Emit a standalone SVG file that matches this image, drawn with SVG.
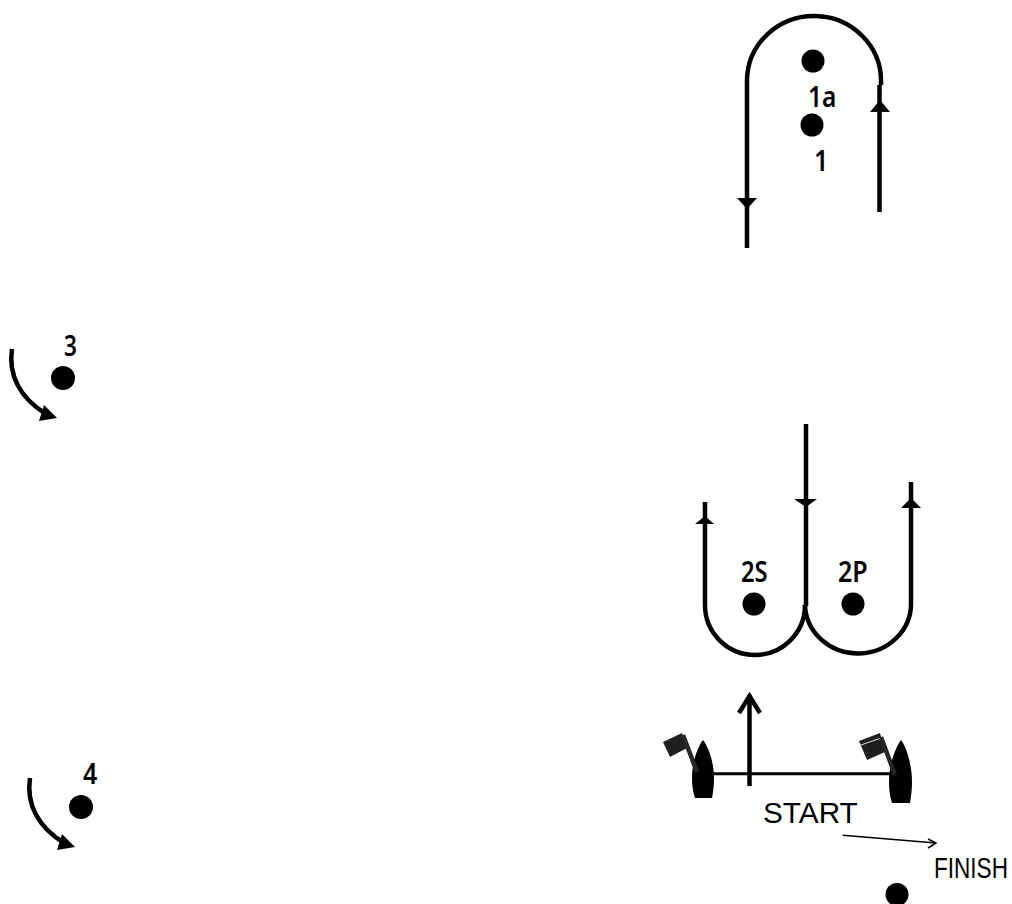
<svg xmlns="http://www.w3.org/2000/svg" width="1012" height="904" viewBox="0 0 1012 904">
<style>
.c{fill:none;stroke:#000;stroke-width:4.500}
.h{fill:#000;stroke:none}
.m{fill:#000}
.l{font-family:"Noto Sans","Open Sans",sans-serif;font-weight:600;font-size:25px;fill:#000}
.t{font-family:"Liberation Sans",Arial,sans-serif;font-size:24px;fill:#000}
</style>
<rect width="1012" height="904" fill="#fff"/>
<g id="connectors">
<path class="c" d="M747 248V80A67 65 0 0 1 881 82V85"/>
<path class="c" d="M879.500 212V85"/>
<path class="h" d="M737 198H757L747 209Z"/>
<path class="h" d="M870 112H890L880 100Z"/>
<path class="c" d="M705 502V605A50 50 0 0 0 805 605"/>
<path class="c" d="M806 424V606"/>
<path class="c" d="M805 605A53 50 0 0 0 911 602V482"/>
<path class="h" d="M695 524H714L705 516Z"/>
<path class="h" d="M794 499H817L806 507Z"/>
<path class="h" d="M901 508H921L911 498Z"/>
<path class="c" d="M12 349C8 375 20 398 46 414"/>
<path class="h" d="M44 405L57 418L39 421Z"/>
<path class="c" d="M30 778C26 804 38 827 64 843"/>
<path class="h" d="M62 834L75 847L57 850Z"/>
<path class="c" d="M749.500 786V695"/>
<path class="c" d="M739 713L749.500 696L760 713"/>
<path d="M713 773.700H890" fill="none" stroke="#000" stroke-width="3"/>
<path fill="none" stroke="#000" stroke-width="1.500" d="M842.700 835.300L936 843M928 839L936 843L928 848"/>
</g>
<g id="node-1a"><circle class="m" cx="813" cy="61" r="11.500"/><text class="l" transform="translate(808 107) scale(.98 1.150)">1a</text></g>
<g id="node-1"><circle class="m" cx="812" cy="125" r="11.500"/><text class="l" transform="translate(814 171) scale(1 1.150)">1</text></g>
<g id="node-2S"><circle class="m" cx="754" cy="604" r="11.500"/><text class="l" transform="translate(741 582) scale(.95 1.150)">2S</text></g>
<g id="node-2P"><circle class="m" cx="853" cy="604" r="11.500"/><text class="l" transform="translate(838 582) scale(1 1.150)">2P</text></g>
<g id="node-3"><circle class="m" cx="63" cy="378" r="12"/><text class="l" transform="translate(64 356) scale(.9 1.150)">3</text></g>
<g id="node-4"><circle class="m" cx="81" cy="807" r="12"/><text class="l" transform="translate(83 784) scale(1 1.150)">4</text></g>
<g id="node-finish-mark"><circle class="m" cx="897" cy="894.500" r="11.500"/></g>
<g id="boat-left">
<path class="m" d="M703 740C708 746 714 762 714 778C714 786 713 793 712 798H695C693 792 692 786 692 778C692 762 698 746 703 740Z"/>
<path d="M663 742L682 733L687 748L670 757Z" fill="#1f1f1f"/>
<path d="M683 735L697 772" fill="none" stroke="#262626" stroke-width="4.500"/>
</g>
<g id="boat-right">
<path class="m" d="M901 740C906 746 912 764 912 782C912 790 911 797 910 803H892C890 797 889 790 889 782C889 764 896 746 901 740Z"/>
<path d="M859 741L880 733L885 752L867 760Z" fill="#1f1f1f"/>
<path d="M861 745L881 738" fill="none" stroke="#ddd" stroke-width="1"/>
<path d="M881 737L895 775" fill="none" stroke="#262626" stroke-width="4.500"/>
</g>
<g id="labels">
<text class="t" transform="translate(763 823) scale(1.240 1.250)">START</text>
<text class="t" transform="translate(934 878) scale(.94 1.250)">FINISH</text>
</g>
</svg>
